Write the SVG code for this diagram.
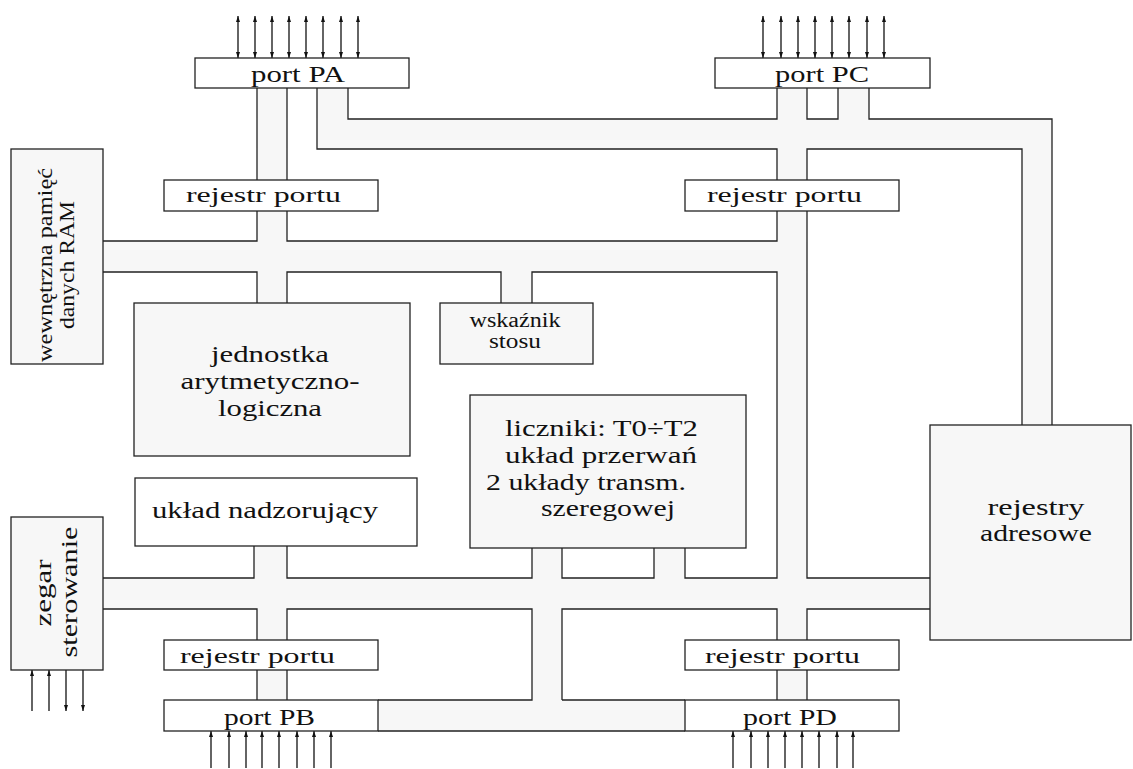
<svg xmlns="http://www.w3.org/2000/svg" width="1133" height="769" viewBox="0 0 1133 769">
<style>
.bus{fill:#f7f7f7;stroke:none}
.ol{fill:none;stroke:#222;stroke-width:1.3}
.bx{stroke:#222;stroke-width:1.3;fill:#ffffff}
.gy{fill:#f7f7f7}
.t{font-family:"Liberation Serif",serif;font-size:23px;fill:#111}
.s{font-size:22px}
.w{font-size:20px}
.m{text-anchor:middle}
.ar{stroke:#111;stroke-width:1.3;fill:none}
</style>
<defs>
<marker id="a" viewBox="0 0 6 4" refX="6" refY="2" markerWidth="6" markerHeight="4" orient="auto-start-reverse" markerUnits="userSpaceOnUse">
<path d="M0,0 L6,2 L0,4 z" fill="#111"/>
</marker>
</defs>
<rect width="1133" height="769" fill="#ffffff"/>
<g id="connectors">
<g id="bus-fill">
<rect class="bus" x="257" y="88" width="30" height="215"/>
<rect class="bus" x="317" y="88" width="31" height="61"/>
<rect class="bus" x="317" y="119" width="735" height="30"/>
<rect class="bus" x="838" y="88" width="31" height="31"/>
<rect class="bus" x="1022" y="119" width="30" height="306"/>
<rect class="bus" x="777" y="88" width="30" height="612"/>
<rect class="bus" x="103" y="241" width="704" height="31"/>
<rect class="bus" x="501" y="272" width="31" height="31"/>
<rect class="bus" x="103" y="578" width="827" height="31"/>
<rect class="bus" x="254" y="546" width="33" height="32"/>
<rect class="bus" x="257" y="609" width="30" height="91"/>
<rect class="bus" x="532" y="548" width="30" height="30"/>
<rect class="bus" x="654" y="548" width="31" height="30"/>
<rect class="bus" x="532" y="609" width="30" height="91"/>
<rect class="bus" x="378" y="700" width="307" height="31"/>
</g>
<path class="ol" d="M103,241 H257 V211 M257,180 V88 M287,88 V180 M287,211 V241 H777 V211 M777,180 V149 H317 V88 M348,88 V119 H777 V88 M807,88 V119 H838 V88 M869,88 V119 H1052 V425 M807,180 V149 H1022 V425 M103,272 H257 V303 M287,303 V272 H501 V303 M532,303 V272 H777 V578 H685 V548 M654,548 V578 H562 V548 M532,548 V578 H287 V546 M254,546 V578 H103 M807,211 V578 H930 M103,609 H257 V640 M287,640 V609 H532 V700 H378 M562,700 V609 H777 V640 M807,640 V609 H930 M257,670 V700 M287,670 V700 M777,670 V700 M807,670 V700 M562,700 H685 M378,731 H685"/>
<g id="arrows-pa" class="ar">
<line x1="238" y1="16" x2="238" y2="58" marker-start="url(#a)" marker-end="url(#a)"/>
<line x1="255" y1="16" x2="255" y2="58" marker-start="url(#a)" marker-end="url(#a)"/>
<line x1="272" y1="16" x2="272" y2="58" marker-start="url(#a)" marker-end="url(#a)"/>
<line x1="289" y1="16" x2="289" y2="58" marker-start="url(#a)" marker-end="url(#a)"/>
<line x1="306" y1="16" x2="306" y2="58" marker-start="url(#a)" marker-end="url(#a)"/>
<line x1="323" y1="16" x2="323" y2="58" marker-start="url(#a)" marker-end="url(#a)"/>
<line x1="341" y1="16" x2="341" y2="58" marker-start="url(#a)" marker-end="url(#a)"/>
<line x1="358" y1="16" x2="358" y2="58" marker-start="url(#a)" marker-end="url(#a)"/>
</g>
<g id="arrows-pc" class="ar">
<line x1="763" y1="16" x2="763" y2="58" marker-start="url(#a)" marker-end="url(#a)"/>
<line x1="781" y1="16" x2="781" y2="58" marker-start="url(#a)" marker-end="url(#a)"/>
<line x1="798" y1="16" x2="798" y2="58" marker-start="url(#a)" marker-end="url(#a)"/>
<line x1="815" y1="16" x2="815" y2="58" marker-start="url(#a)" marker-end="url(#a)"/>
<line x1="832" y1="16" x2="832" y2="58" marker-start="url(#a)" marker-end="url(#a)"/>
<line x1="849" y1="16" x2="849" y2="58" marker-start="url(#a)" marker-end="url(#a)"/>
<line x1="867" y1="16" x2="867" y2="58" marker-start="url(#a)" marker-end="url(#a)"/>
<line x1="884" y1="16" x2="884" y2="58" marker-start="url(#a)" marker-end="url(#a)"/>
</g>
<g id="arrows-pb" class="ar">
<line x1="211" y1="768" x2="211" y2="731" marker-end="url(#a)"/>
<line x1="229" y1="768" x2="229" y2="731" marker-end="url(#a)"/>
<line x1="246" y1="768" x2="246" y2="731" marker-end="url(#a)"/>
<line x1="262" y1="768" x2="262" y2="731" marker-end="url(#a)"/>
<line x1="279" y1="768" x2="279" y2="731" marker-end="url(#a)"/>
<line x1="297" y1="768" x2="297" y2="731" marker-end="url(#a)"/>
<line x1="314" y1="768" x2="314" y2="731" marker-end="url(#a)"/>
<line x1="331" y1="768" x2="331" y2="731" marker-end="url(#a)"/>
</g>
<g id="arrows-pd" class="ar">
<line x1="733" y1="768" x2="733" y2="731" marker-end="url(#a)"/>
<line x1="751" y1="768" x2="751" y2="731" marker-end="url(#a)"/>
<line x1="768" y1="768" x2="768" y2="731" marker-end="url(#a)"/>
<line x1="785" y1="768" x2="785" y2="731" marker-end="url(#a)"/>
<line x1="802" y1="768" x2="802" y2="731" marker-end="url(#a)"/>
<line x1="819" y1="768" x2="819" y2="731" marker-end="url(#a)"/>
<line x1="837" y1="768" x2="837" y2="731" marker-end="url(#a)"/>
<line x1="853" y1="768" x2="853" y2="731" marker-end="url(#a)"/>
</g>
<g id="arrows-zegar" class="ar">
<line x1="32" y1="711" x2="32" y2="670" marker-end="url(#a)"/>
<line x1="49" y1="711" x2="49" y2="670" marker-end="url(#a)"/>
<line x1="66" y1="670" x2="66" y2="711" marker-end="url(#a)"/>
<line x1="83" y1="670" x2="83" y2="711" marker-end="url(#a)"/>
</g>
</g>
<g id="port-pa"><rect class="bx" x="195" y="58" width="214" height="30"/><text class="t" x="251" y="82" textLength="94" lengthAdjust="spacingAndGlyphs">port PA</text></g>
<g id="port-pc"><rect class="bx" x="715" y="58" width="215" height="30"/><text class="t" x="775" y="82" textLength="94" lengthAdjust="spacingAndGlyphs">port PC</text></g>
<g id="rejestr-pa"><rect class="bx" x="164" y="180" width="214" height="31"/><text class="t s" x="186" y="202" textLength="155" lengthAdjust="spacingAndGlyphs">rejestr portu</text></g>
<g id="rejestr-pc"><rect class="bx" x="685" y="180" width="214" height="31"/><text class="t s" x="707" y="202" textLength="155" lengthAdjust="spacingAndGlyphs">rejestr portu</text></g>
<g id="ram"><rect class="bx gy" x="11" y="149" width="92" height="215"/>
<text class="t m" style="font-size:21px" transform="translate(52,265) rotate(-90)" textLength="194" lengthAdjust="spacingAndGlyphs">wewnętrzna pamięć</text>
<text class="t m" style="font-size:21px" transform="translate(74,265) rotate(-90)" textLength="128" lengthAdjust="spacingAndGlyphs">danych RAM</text></g>
<g id="alu"><rect class="bx gy" x="134" y="303" width="276" height="153"/>
<text class="t m" x="270" y="362" textLength="118" lengthAdjust="spacingAndGlyphs">jednostka</text>
<text class="t m" x="270" y="389" textLength="179" lengthAdjust="spacingAndGlyphs">arytmetyczno-</text>
<text class="t m" x="270" y="416" textLength="104" lengthAdjust="spacingAndGlyphs">logiczna</text></g>
<g id="wskaznik"><rect class="bx gy" x="440" y="303" width="153" height="61"/>
<text class="t w m" x="515" y="327" textLength="91" lengthAdjust="spacingAndGlyphs">wskaźnik</text>
<text class="t w m" x="515" y="348" textLength="52" lengthAdjust="spacingAndGlyphs">stosu</text></g>
<g id="liczniki"><rect class="bx gy" x="470" y="395" width="276" height="153"/>
<text class="t" x="505" y="436" textLength="193" lengthAdjust="spacingAndGlyphs">liczniki: T0÷T2</text>
<text class="t" x="505" y="463" textLength="192" lengthAdjust="spacingAndGlyphs">układ przerwań</text>
<text class="t" x="486" y="490" textLength="200" lengthAdjust="spacingAndGlyphs">2 układy transm.</text>
<text class="t" x="541" y="516" textLength="134" lengthAdjust="spacingAndGlyphs">szeregowej</text></g>
<g id="nadzorujacy"><rect class="bx" x="135" y="478" width="282" height="68"/>
<text class="t" x="152" y="518" textLength="226" lengthAdjust="spacingAndGlyphs">układ nadzorujący</text></g>
<g id="zegar"><rect class="bx gy" x="11" y="517" width="92" height="153"/>
<text class="t m" transform="translate(51,593) rotate(-90)" textLength="67" lengthAdjust="spacingAndGlyphs">zegar</text>
<text class="t m" transform="translate(77,592) rotate(-90)" textLength="131" lengthAdjust="spacingAndGlyphs">sterowanie</text></g>
<g id="rejestry"><rect class="bx gy" x="930" y="425" width="201" height="215"/>
<text class="t m" x="1036" y="515" textLength="97" lengthAdjust="spacingAndGlyphs">rejestry</text>
<text class="t m" x="1036" y="541" textLength="112" lengthAdjust="spacingAndGlyphs">adresowe</text></g>
<g id="rejestr-pb"><rect class="bx" x="164" y="640" width="214" height="30"/><text class="t s" x="180" y="663" textLength="155" lengthAdjust="spacingAndGlyphs">rejestr portu</text></g>
<g id="port-pb"><rect class="bx" x="164" y="700" width="214" height="31"/><text class="t" x="224" y="725" textLength="91" lengthAdjust="spacingAndGlyphs">port PB</text></g>
<g id="rejestr-pd"><rect class="bx" x="685" y="640" width="214" height="30"/><text class="t s" x="705" y="663" textLength="155" lengthAdjust="spacingAndGlyphs">rejestr portu</text></g>
<g id="port-pd"><rect class="bx" x="685" y="700" width="214" height="31"/><text class="t" x="743" y="725" textLength="94" lengthAdjust="spacingAndGlyphs">port PD</text></g>
</svg>
